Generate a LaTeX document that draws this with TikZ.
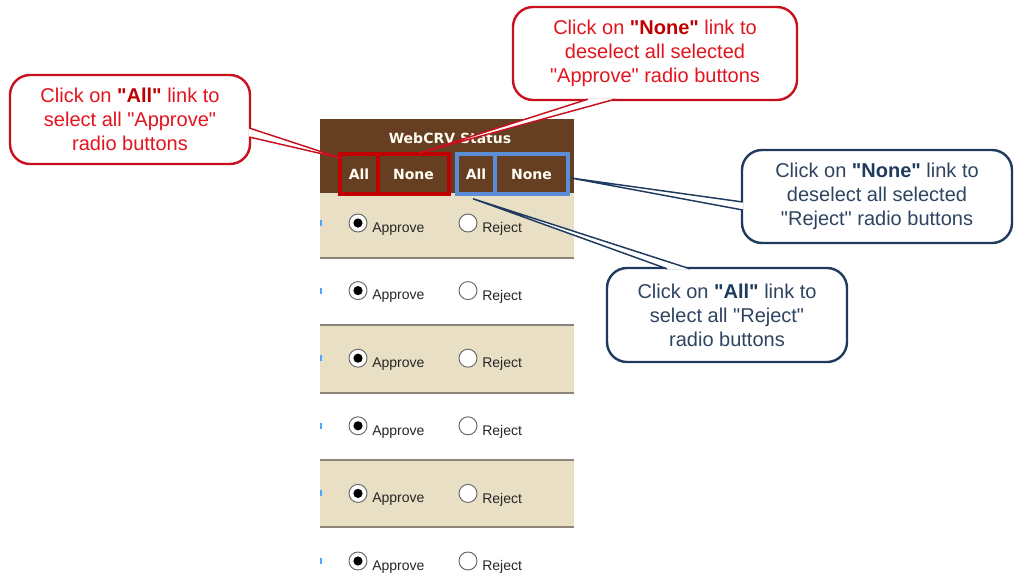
\documentclass[tikz,border=0pt]{standalone}
\usepackage{fontspec}
\setmainfont{Liberation Sans}
\newfontfamily\hdrfont{DejaVu Sans}
\usetikzlibrary{calc}

\definecolor{hdrbrown}{HTML}{663E21}
\definecolor{rowbeige}{HTML}{E8DFC4}
\definecolor{rowline}{HTML}{8A8578}
\definecolor{lnkred}{HTML}{C00000}
\definecolor{lnkblue}{HTML}{5B8ED6}
\definecolor{calred}{HTML}{C8101E}
\definecolor{calredtext}{HTML}{E3141E}
\definecolor{calredbold}{HTML}{C00000}
\definecolor{calblue}{HTML}{1F3A5F}
\definecolor{calbluetext}{HTML}{2E4460}
\definecolor{infoblue}{HTML}{4DA6FF}

\newcommand{\dq}{\textquotedbl}

\tikzset{
  callout/.style={draw, fill=white, line width=1.8pt, rounded corners=15pt, align=center,
    inner sep=0pt, font=\fontsize{15}{18}\selectfont},
  redcall/.style={callout, draw=calred, text=calredtext},
  bluecall/.style={callout, draw=calblue, text=calbluetext},
  tail/.style={fill=white, line width=1.1pt, line join=miter},
  hdrtext/.style={text=white!95!yellow, font=\hdrfont\bfseries\fontsize{10.5}{12}\selectfont},
  linkbox/.style={hdrtext, draw, line width=2.6pt, minimum height=30pt, inner sep=0pt},
  radiorim/.style={draw=black!60, fill=white, line width=0.7pt},
  radiotext/.style={inner sep=0pt, text=black!85, font=\fontsize{10.5}{12}\selectfont}
}

\begin{document}
\begin{tikzpicture}[x=0.75pt, y=-0.75pt]
\useasboundingbox (0,0) rectangle (1014,572);

% status table
\foreach \r in {1,3,5}
  \fill[rowbeige] (320,{191+67.2*(\r-1)}) rectangle (574,{258+67.2*(\r-1)});
\foreach \r in {2,...,6}
  \draw[rowline, line width=1.5pt] (320,{191+67.2*(\r-1)}) -- (574,{191+67.2*(\r-1)});
\fill[hdrbrown] (320,119) rectangle (574,193);
\node[hdrtext] (hdr) at (450,138) {WebCRV Status};

\node[linkbox, draw=lnkred, minimum width=28.5pt] (lnkAllA) at (359,174) {All};
\node[linkbox, draw=lnkred, minimum width=53.25pt] (lnkNoneA) at (413.5,174) {None};
\node[linkbox, draw=lnkblue, minimum width=28.5pt] (lnkAllR) at (476,174) {All};
\node[linkbox, draw=lnkblue, minimum width=54.75pt] (lnkNoneR) at (531.5,174) {None};

\foreach \r in {1,...,6} {
  \pgfmathsetmacro\cy{223+67.6*(\r-1)}
  \draw[infoblue, line width=1pt] (321,\cy-3) -- (321,\cy+3);
  \draw[radiorim] (358,\cy) circle (9);
  \fill (358,\cy) circle (4.6);
  \draw[radiorim] (468,\cy) circle (9);
  \node[radiotext, anchor=west] (ap\r) at (372,\cy+6) {Approve};
  \node[radiotext, anchor=west] (rj\r) at (482,\cy+6) {Reject};
}

% callouts
\node[redcall, minimum width=180pt, minimum height=66.75pt] (allApprove) at (130,119.5)
  {Click on {\bfseries\color{calredbold}\dq All\dq} link to\\select all \dq Approve\dq\\radio buttons};
\node[redcall, minimum width=213pt, minimum height=69.75pt] (noneApprove) at (655,53.5)
  {Click on {\bfseries\color{calredbold}\dq None\dq} link to\\deselect all selected\\\dq Approve\dq{} radio buttons};
\node[bluecall, minimum width=202.5pt, minimum height=69.75pt] (noneReject) at (877,196.5)
  {Click on {\bfseries\color{calblue}\dq None\dq} link to\\deselect all selected\\\dq Reject\dq{} radio buttons};
\node[bluecall, minimum width=180pt, minimum height=70.5pt] (allReject) at (727,315)
  {Click on {\bfseries\color{calblue}\dq All\dq} link to\\select all \dq Reject\dq\\radio buttons};

\filldraw[tail, draw=calred] ($(allApprove.east)+(-2,8.5)$) -- ($(lnkAllA.north west)+(3,6)$)
  -- ($(allApprove.east)+(-2,17.5)$);
\filldraw[tail, draw=calred] ($(noneApprove.south)+(-67,-2)$) -- ($(lnkNoneA.north)+(5,1)$)
  -- ($(noneApprove.south)+(-40,-2)$);
\filldraw[tail, draw=calblue] ($(noneReject.west)+(2,5.5)$) -- ($(lnkNoneR.east)+(1,4)$)
  -- ($(noneReject.west)+(2,13.5)$);
\filldraw[tail, draw=calblue] ($(allReject.north)+(-60,2)$) -- ($(lnkAllR.south)+(-3,3)$)
  -- ($(allReject.north)+(-37,2)$);
\end{tikzpicture}
\end{document}
